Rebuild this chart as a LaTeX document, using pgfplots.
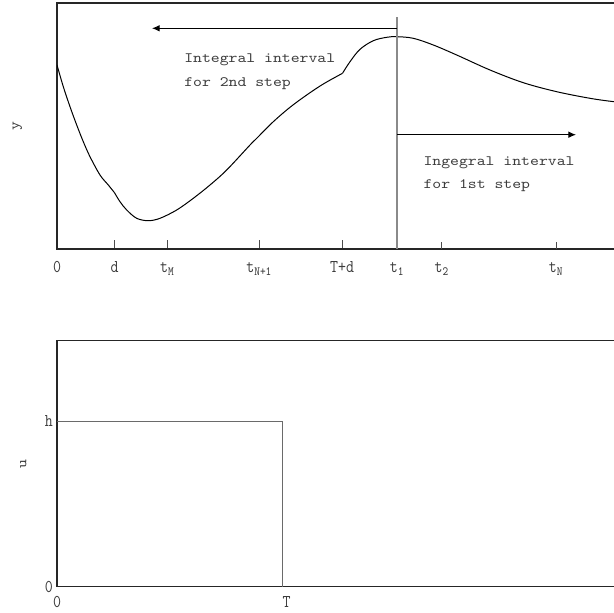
\documentclass[border=0pt]{standalone}
\usepackage{fontspec}
\usepackage{pgfplots}
\pgfplotsset{compat=1.18}
\usetikzlibrary{arrows.meta}

% Typewriter faces: widened for notes and axis names, condensed for tick labels
\newfontfamily\couriertext[FakeStretch=1.18]{Latin Modern Mono}
\newfontfamily\couriertick[FakeStretch=0.86]{Latin Modern Mono}
\newcommand\txtfont{\couriertext\fontsize{10.75pt}{13pt}\selectfont}
\newcommand\tckfont{\couriertick\fontsize{13.5pt}{16pt}\selectfont}

\definecolor{spine}{HTML}{262626}
\definecolor{ink}{HTML}{3C3C3C}
\definecolor{guide}{HTML}{8A8A8A}
\definecolor{stepc}{HTML}{6A6A6A}

\pgfplotsset{
  diagram/.style={
    scale only axis, width=437.25pt, height=184.5pt,
    xmin=0, xmax=583, ymin=0, ymax=246,
    axis line style={draw=spine, line width=1.1pt},
    tick style={draw=black!70, line width=0.6pt},
    tick align=inside,
    xtick pos=left, ytick pos=left,
    ticklabel style={font=\tckfont, text=ink},
  }
}

\begin{document}
\begin{tikzpicture}
\useasboundingbox (0,0) rectangle (460.5pt,-459.75pt);

% ---- output y(t) -------------------------------------------------------
\begin{axis}[diagram,
  at={(42.75pt,-2.25pt)}, anchor=north west,
  xtick={0,57.7,110.2,202.2,285.2,340},
  xticklabels={0,d,t\textsubscript{M},t\textsubscript{N+1},T+d,t\textsubscript{1}},
  extra x ticks={384.7,499},
  extra x tick labels={t\textsubscript{2},t\textsubscript{N}},
  extra x tick style={major tick length=5pt},
  major tick length=6.75pt,
  ytick=\empty,
  xticklabel style={anchor=base, yshift=-17.8pt},
  ylabel={y},
  every axis y label/.style={at={(axis description cs:-0.068,0.5)},
    rotate=90, anchor=center, font=\txtfont, text=ink, inner sep=0pt},
]
% response: three smooth pieces joined at t=d and t=T+d
\addplot[black, line width=0.75pt, smooth, tension=0.55] coordinates {
  (0,184) (6.3,162.3) (13,142.3) (19.7,124) (26.3,107.3) (33,92.3)
  (43,74) (51.3,64) (57.5,56.3)};
\addplot[black, line width=0.75pt, smooth, tension=0.55] coordinates {
  (57.5,56.3) (63,47.3) (69.7,39) (79.7,30.7) (91.3,28.3) (103,30.7)
  (119.7,39) (136.3,50.7) (153,64) (169.7,79) (193,104) (199.7,110.7)
  (216.3,127.3) (233,141.7) (249.7,154) (266.3,165) (285.5,175.7)};
\addplot[black, line width=0.75pt, smooth, tension=0.55] coordinates {
  (285.5,175.7) (293,187.3) (303,199.7) (316.3,208.3) (329.7,211.7)
  (339.7,212.3) (356.3,210.7) (376.3,204) (399.7,194) (433,179)
  (466.3,166.3) (499.7,157.3) (533,150.7) (557,147.3) (583,144.8)};
% current instant t_1
\addplot[guide, line width=0.9pt] coordinates {(340,0) (340,232.3)};
% integration intervals
\draw[black, line width=0.75pt, -{Latex[length=5.8pt,width=5pt]}]
  (axis cs:340,220.7) -- (axis cs:95,220.7);
\draw[black, line width=0.75pt, -{Latex[length=5.8pt,width=5pt]}]
  (axis cs:340,114.3) -- (axis cs:519,114.3);
\node[anchor=base west, inner sep=0pt, font=\txtfont, text=ink]
  at (axis cs:127,186.3) {Integral interval};
\node[anchor=base west, inner sep=0pt, font=\txtfont, text=ink]
  at (axis cs:127,162.3) {for 2nd step};
\node[anchor=base west, inner sep=0pt, font=\txtfont, text=ink]
  at (axis cs:366.3,84) {Ingegral interval};
\node[anchor=base west, inner sep=0pt, font=\txtfont, text=ink]
  at (axis cs:366.3,60.5) {for 1st step};
\end{axis}

% ---- input u(t): pulse of height h and width T --------------------------
\begin{axis}[diagram,
  at={(42.75pt,-255.5pt)}, anchor=north west,
  xtick={0,225.7}, xticklabels={0,{\hspace{5.8pt}T}},
  ytick={0,165.3}, yticklabels={0,{h\hspace{7pt}}},
  xtick style={draw=none},
  major tick length=3pt,
  xticklabel style={anchor=base, yshift=-15.6pt},
  yticklabel style={anchor=east, inner sep=0pt, xshift=-3pt},
  ylabel={u},
  every axis y label/.style={at={(axis description cs:-0.0576,0.5)},
    rotate=90, anchor=center, font=\txtfont, text=ink, inner sep=0pt},
]
\addplot[stepc, line width=0.8pt] coordinates {(0,165.3) (225.7,165.3) (225.7,0)};
\end{axis}
\end{tikzpicture}
\end{document}
